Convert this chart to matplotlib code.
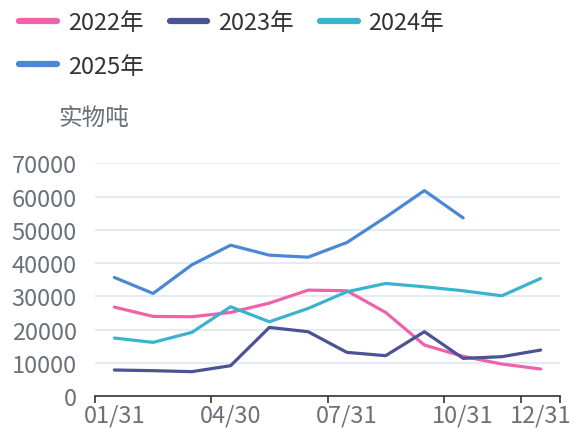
import matplotlib
matplotlib.use("Agg")
import matplotlib.pyplot as plt
from matplotlib.ticker import FixedLocator, FixedFormatter

plt.rcParams["font.family"] = ["Noto Sans CJK SC", "DejaVu Sans"]

# Monthly categories (month-end dates)
DATES = ["01/31", "02/28", "03/31", "04/30", "05/31", "06/30",
         "07/31", "08/31", "09/30", "10/31", "11/30", "12/31"]
SHOWN = [0, 3, 6, 9, 11]  # categories with a visible label

Y2022 = [26800, 24000, 23900, 25200, 28000, 31900,
         31700, 25200, 15400, 12000, 9700, 8200]
Y2023 = [7900, 7700, 7400, 9200, 20700, 19400,
         13200, 12200, 19400, 11400, 11900, 13900]
Y2024 = [17500, 16200, 19200, 26900, 22400, 26400,
         31400, 33900, 32900, 31700, 30200, 35400]
Y2025 = [35700, 30900, 39500, 45400, 42400, 41800,
         46200, 53800, 61800, 53600]

SERIES = [("2022年", Y2022, "#f062a8"),
          ("2023年", Y2023, "#4b5394"),
          ("2024年", Y2024, "#3bb3cc"),
          ("2025年", Y2025, "#4a88d6")]

FS = 17

fig = plt.figure(figsize=(5.77, 4.39), dpi=100)
ax = fig.add_axes([95 / 577, 1 - 397.3 / 439, 465 / 577, 233 / 439])

lines = {}
for name, vals, color in SERIES:
    lines[name], = ax.plot(range(len(vals)), vals, color=color, lw=2.3,
                           label=name, solid_joinstyle="round",
                           solid_capstyle="round")

ax.set_xlim(-0.5, len(DATES) - 0.5)
ax.set_ylim(0, 70000)
ax.set_yticks(range(0, 70001, 10000))
ax.grid(axis="y", color="#e0e6f1", lw=1.2)
ax.set_axisbelow(True)

# ticks at category boundaries, labels at category centres
bounds = [i - 0.5 for i in SHOWN] + [len(DATES) - 0.5]
ax.xaxis.set_major_locator(FixedLocator(bounds))
ax.xaxis.set_major_formatter(FixedFormatter([""] * len(bounds)))
ax.xaxis.set_minor_locator(FixedLocator(SHOWN))
ax.xaxis.set_minor_formatter(FixedFormatter([DATES[i] for i in SHOWN]))
ax.tick_params(axis="x", which="major", length=5, width=1.2, color="#333333")
ax.tick_params(axis="x", which="minor", length=0, pad=5,
               labelsize=FS, labelcolor="#6e7079")
ax.tick_params(axis="y", length=0, pad=13, labelsize=FS, labelcolor="#6e7079")

for s in ["left", "right", "top"]:
    ax.spines[s].set_visible(False)
ax.spines["bottom"].set_color("#333333")
ax.spines["bottom"].set_linewidth(1.2)

fig.text(58 / 577, 1 - 118 / 439, "实物吨", fontsize=FS, color="#6e7079",
         va="center", ha="left")

# row-major order for a 3-column legend
order = ["2022年", "2025年", "2023年", "2024年"]
leg = fig.legend([lines[k] for k in order], order, loc="upper left",
                 bbox_to_anchor=(10 / 577, 1 - 3 / 439), ncol=3,
                 frameon=False, fontsize=FS, handlelength=1.6,
                 handletextpad=0.45, columnspacing=1.1, labelspacing=0.85,
                 labelcolor="#333333", handleheight=0.7, borderaxespad=0)
for line in leg.get_lines():
    line.set_linewidth(4.5)

fig.savefig("out.png", dpi=100)
